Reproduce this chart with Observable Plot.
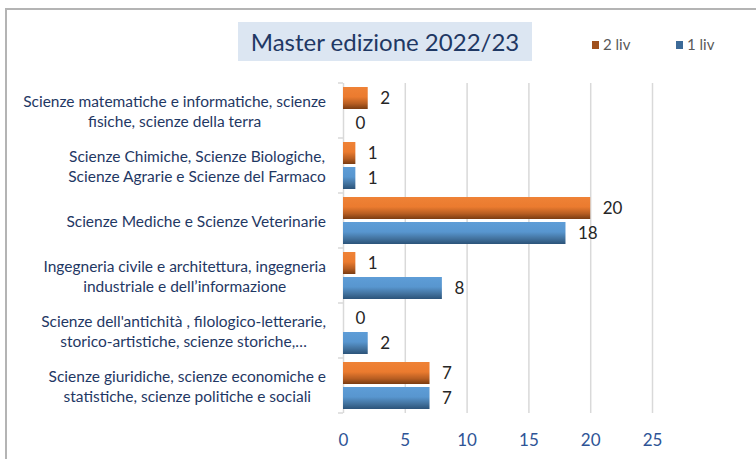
<!DOCTYPE html>
<html>
<head>
<meta charset="utf-8">
<script src="https://cdn.jsdelivr.net/npm/d3@7"></script>
<script src="https://cdn.jsdelivr.net/npm/@observablehq/plot@0.6"></script>
<style>
  html, body { margin: 0; padding: 0; background: #fff; }
  #wrap { position: relative; width: 756px; height: 459px; overflow: hidden; font-family: Lato, "Open Sans", sans-serif; }
  #border { position: absolute; left: 5px; top: 8px; width: 800px; height: 500px; border: 2px solid #b4b4b4; box-sizing: border-box; }
  #title { position: absolute; left: 238px; top: 22px; width: 294px; height: 39px; background: #dce6f2; color: #1f3864; font-size: 24px; line-height: 39px; text-align: center; }
  .leg { position: absolute; top: 34px; font-size: 15px; color: #595959; line-height: 20px; }
  .sw { display: inline-block; width: 7px; height: 8px; margin-right: 4px; vertical-align: 1px; }
  #chart { position: absolute; left: 0; top: 0; }
</style>
</head>
<body>
<svg width="0" height="0" style="position:absolute">
  <defs>
    <linearGradient id="gO" x1="0" y1="0" x2="0" y2="1">
      <stop offset="0" stop-color="#ef8236"/>
      <stop offset="0.45" stop-color="#eb7b2f"/>
      <stop offset="0.75" stop-color="#b85e22"/>
      <stop offset="1" stop-color="#7a3c12"/>
    </linearGradient>
    <linearGradient id="gB" x1="0" y1="0" x2="0" y2="1">
      <stop offset="0" stop-color="#5e9dd7"/>
      <stop offset="0.45" stop-color="#5896cf"/>
      <stop offset="0.75" stop-color="#43739f"/>
      <stop offset="1" stop-color="#2b5379"/>
    </linearGradient>
  </defs>
</svg>
<div id="wrap">
  <div id="border"></div>
  <div id="chart"></div>
  <div id="title">Master edizione 2022/23</div>
  <div class="leg" style="left:592px"><span class="sw" style="background:#a0501c"></span>2 liv</div>
  <div class="leg" style="left:676px"><span class="sw" style="background:#3c6a98"></span>1 liv</div>
</div>
<script>
const categories = [
  "Scienze matematiche e informatiche, scienze\nfisiche, scienze della terra",
  "Scienze Chimiche, Scienze Biologiche,\nScienze Agrarie e Scienze del Farmaco",
  "Scienze Mediche e Scienze Veterinarie",
  "Ingegneria civile e architettura, ingegneria\nindustriale e dell’informazione",
  "Scienze dell'antichità , filologico-letterarie,\nstorico-artistiche, scienze storiche,…",
  "Scienze giuridiche, scienze economiche e\nstatistiche, scienze politiche e sociali"
];
const series = ["2 liv", "1 liv"];
const liv2 = [2, 1, 20, 1, 0, 7];
const liv1 = [0, 1, 18, 8, 2, 7];
const xTicks = [0, 5, 10, 15, 20, 25];
const gridTicks = [5, 10, 15, 20, 25];

const rows = [];
categories.forEach((c, i) => {
  rows.push({cat: c, series: "2 liv", value: liv2[i]});
  rows.push({cat: c, series: "1 liv", value: liv1[i]});
});

const plot = Plot.plot({
  width: 756,
  height: 459,
  marginLeft: 343,
  marginRight: 104,
  marginTop: 82,
  marginBottom: 45,
  style: {fontFamily: "Lato, 'Open Sans', sans-serif", background: "transparent", overflow: "visible"},
  x: {domain: [0, 25], ticks: xTicks, label: null},
  y: {domain: series, padding: 0.12, axis: null, label: null},
  fy: {domain: categories, padding: 0, label: null, axis: null},
  marks: [
    Plot.gridX({ticks: gridTicks, stroke: "#d9d9d9", strokeOpacity: 1, strokeWidth: 1.5}),
    Plot.ruleX([0], {stroke: "#d9d9d9", strokeWidth: 1.5}),
    Plot.barX(rows.filter(d => d.series === "2 liv"), {fy: "cat", y: "series", x: "value", fill: "url(#gO)"}),
    Plot.barX(rows.filter(d => d.series === "1 liv"), {fy: "cat", y: "series", x: "value", fill: "url(#gB)"}),
    Plot.text(rows, {fy: "cat", y: "series", x: "value", text: d => String(d.value), textAnchor: "start", dx: 12, fontSize: 17, fill: "#262626"}),
    Plot.axisFy({anchor: "left", tickSize: 0, tickPadding: 16, fontSize: 15.5, fill: "#1f3864", lineHeight: 1.29, textAnchor: "middle", label: null}),
    Plot.axisX({ticks: xTicks, tickSize: 0, tickPadding: 20, fontSize: 17, fill: "#2e5496", label: null})
  ]
});

document.getElementById("chart").appendChild(plot);

// small category-axis tick marks at group boundaries, from the fy/x scales
const fy = plot.scale("fy");
const x0 = plot.scale("x").apply(0);
const bounds = categories.map(c => fy.apply(c));
bounds.push(fy.apply(categories[categories.length - 1]) + fy.bandwidth);
const g = d3.select(plot).append("g").attr("stroke", "#d9d9d9").attr("stroke-width", 1.5);
bounds.forEach(b => g.append("line").attr("x1", x0 - 5).attr("x2", x0).attr("y1", b).attr("y2", b));

// category labels: lines centred on each other, block right-aligned to the axis gap
const rightEdge = x0 - 17;
const svgLeft = plot.getBoundingClientRect().left;
d3.select(plot).selectAll("[aria-label='fy-axis tick label'] text").each(function() {
  const r = this.getBoundingClientRect();
  const shift = rightEdge - (r.right - svgLeft);
  const t = this.getAttribute("transform") || "";
  this.setAttribute("transform", `translate(${shift},0) ${t}`);
});
</script>
</body>
</html>
